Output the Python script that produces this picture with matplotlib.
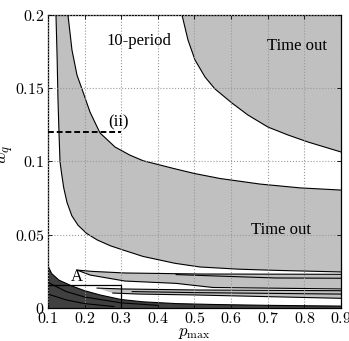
import numpy as np
import matplotlib
matplotlib.use("Agg")
import matplotlib.pyplot as plt
from matplotlib.ticker import FuncFormatter

plt.rcParams['mathtext.fontset'] = 'cm'
plt.rcParams['font.family'] = ['Liberation Serif', 'DejaVu Serif']

# ---------------- data ----------------
x_ticks = [0.1, 0.2, 0.3, 0.4, 0.5, 0.6, 0.7, 0.8, 0.9]
y_ticks = [0, 0.05, 0.1, 0.15, 0.2]
x_lim = (0.1, 0.9)
y_lim = (0.0, 0.2)

# left / lower boundary of the large grey "Time out" band
low_x = [0.1218, 0.1250, 0.1273, 0.1300, 0.1328, 0.137, 0.143, 0.152, 0.165, 0.182, 0.205, 0.234,
         0.27, 0.3048, 0.3594, 0.4468, 0.515, 0.62, 0.72, 0.9]
low_y = [0.2, 0.17, 0.142, 0.12, 0.100, 0.092, 0.082, 0.072, 0.063, 0.0565, 0.051, 0.0465,
         0.0425, 0.0396, 0.0352, 0.0305, 0.0280, 0.0265, 0.0257, 0.0246]
# upper boundary of the large grey band
up_x = [0.1546, 0.1655, 0.1792, 0.1928, 0.2147, 0.242, 0.283, 0.3232, 0.36, 0.4058, 0.4468,
        0.5, 0.5697, 0.6789, 0.788, 0.9]
up_y = [0.2, 0.1761, 0.1590, 0.1495, 0.1338, 0.1195, 0.1099, 0.1044, 0.1005, 0.0976, 0.0950,
        0.0918, 0.0884, 0.0846, 0.0820, 0.0805]
# lower boundary of the top-right "Time out" region
tr_x = [0.4659, 0.4823, 0.5014, 0.5287, 0.556, 0.6024, 0.6461, 0.7007, 0.7553, 0.8099, 0.9]
tr_y = [0.2, 0.1829, 0.1693, 0.1577, 0.1495, 0.1399, 0.1317, 0.1235, 0.1181, 0.1133, 0.1065]

# thin grey band (upper)
b3_top_x = [0.179, 0.22, 0.31, 0.515, 0.9]
b3_top_y = [0.0259, 0.0250, 0.0239, 0.0232, 0.0230]
b3_bot_x = [0.179, 0.215, 0.31, 0.45, 0.55, 0.9]
b3_bot_y = [0.0259, 0.0225, 0.0184, 0.0168, 0.0140, 0.0130]
b3_mid_x = [0.45, 0.6, 0.72, 0.9]
b3_mid_y = [0.0228, 0.0215, 0.0205, 0.0203]

# thin grey band (lower)
b4_top_x = [0.234, 0.3, 0.5, 0.9]
b4_top_y = [0.0136, 0.0130, 0.0123, 0.0118]
b4_bot_x = [0.277, 0.35, 0.5, 0.9]
b4_bot_y = [0.0102, 0.0095, 0.0089, 0.0066]
b4_line_x = [0.33, 0.5, 0.9]
b4_line_y = [0.0112, 0.0105, 0.0095]

# dark region, bottom left
dk_x = [0.1, 0.11, 0.13, 0.1655, 0.2, 0.242, 0.2993, 0.36, 0.45, 0.55, 0.7, 0.9]
dk_y = [0.0286, 0.0235, 0.0190, 0.0150, 0.0118, 0.0089, 0.0058, 0.0042, 0.0030, 0.0024, 0.0018, 0.0013]
dk_l1_x = [0.1, 0.15, 0.2, 0.3, 0.4]
dk_l1_y = [0.0175, 0.0112, 0.0075, 0.0035, 0.0018]
dk_l2_x = [0.1, 0.15, 0.2, 0.28]
dk_l2_y = [0.0095, 0.0055, 0.0030, 0.0010]

# box A and dashed line (ii)
box_x = [0.1, 0.3, 0.3]
box_y = [0.0155, 0.0155, 0.0]
dash_x = [0.1, 0.3]
dash_y = [0.12, 0.12]

# ---------------- figure ----------------
fig = plt.figure(figsize=(3.49, 3.41), dpi=100)
ax = fig.add_axes([0.1375, 0.0968, 0.8395, 0.8592])

grey = '#c0c0c0'
dark = '#404040'
lw = 0.8

ax.fill(np.r_[low_x, up_x[::-1]], np.r_[low_y, up_y[::-1]], color=grey, lw=0, zorder=1)
ax.fill(np.r_[tr_x, x_lim[1]], np.r_[tr_y, y_lim[1]], color=grey, lw=0, zorder=1)
ax.fill(np.r_[b3_top_x, b3_bot_x[::-1]], np.r_[b3_top_y, b3_bot_y[::-1]], color=grey, lw=0, zorder=1)
ax.fill(np.r_[b4_top_x, b4_bot_x[::-1]], np.r_[b4_top_y, b4_bot_y[::-1]], color=grey, lw=0, zorder=1)
ax.fill(np.r_[x_lim[0], dk_x, x_lim[1]], np.r_[y_lim[0], dk_y, y_lim[0]], color=dark, lw=0, zorder=1)

for xs, ys in [(low_x, low_y), (up_x, up_y), (tr_x, tr_y), (b3_top_x, b3_top_y),
               (b3_bot_x, b3_bot_y), (b3_mid_x, b3_mid_y), (b4_top_x, b4_top_y),
               (b4_bot_x, b4_bot_y), (b4_line_x, b4_line_y), (dk_x, dk_y),
               (dk_l1_x, dk_l1_y), (dk_l2_x, dk_l2_y)]:
    ax.plot(xs, ys, color='black', lw=lw, zorder=2)

ax.plot(box_x, box_y, color='black', lw=0.9, zorder=3)
ax.plot(dash_x, dash_y, color='black', lw=1.4, ls=(0, (3, 1.5)), zorder=3)

ax.grid(True, color='#999999', ls=':', lw=0.8, zorder=4)
ax.set_axisbelow(False)

ax.set_xlim(*x_lim)
ax.set_ylim(*y_lim)
ax.set_xticks(x_ticks)
ax.set_yticks(y_ticks)
fmt = FuncFormatter(lambda v, p: r'$%g$' % round(v, 3))
ax.xaxis.set_major_formatter(fmt)
ax.yaxis.set_major_formatter(fmt)
ax.tick_params(direction='in', length=3, width=0.6, labelsize=11.5, top=True, right=True)
ax.tick_params(axis='y', pad=2.5)
ax.tick_params(axis='x', pad=2)
for s in ax.spines.values():
    s.set_linewidth(0.9)

fig.text(0.557, 0.0, r'$p_{\max}$', fontsize=12, ha='center', va='bottom')
fig.text(0.018, 0.545, r'$w_q$', rotation=90, fontsize=13, ha='center', va='center')

ax.text(0.349, 0.182, '10-period', fontsize=12, ha='center', va='center', zorder=5)
ax.text(0.78, 0.179, 'Time out', fontsize=12, ha='center', va='center', zorder=5)
ax.text(0.736, 0.053, 'Time out', fontsize=12, ha='center', va='center', zorder=5)
ax.text(0.292, 0.1215, '(ii)', fontsize=12, ha='center', va='bottom', zorder=5)
ax.text(0.178, 0.0158, 'A', fontsize=12, ha='center', va='bottom', zorder=5)

fig.savefig('out.png', dpi=100)
